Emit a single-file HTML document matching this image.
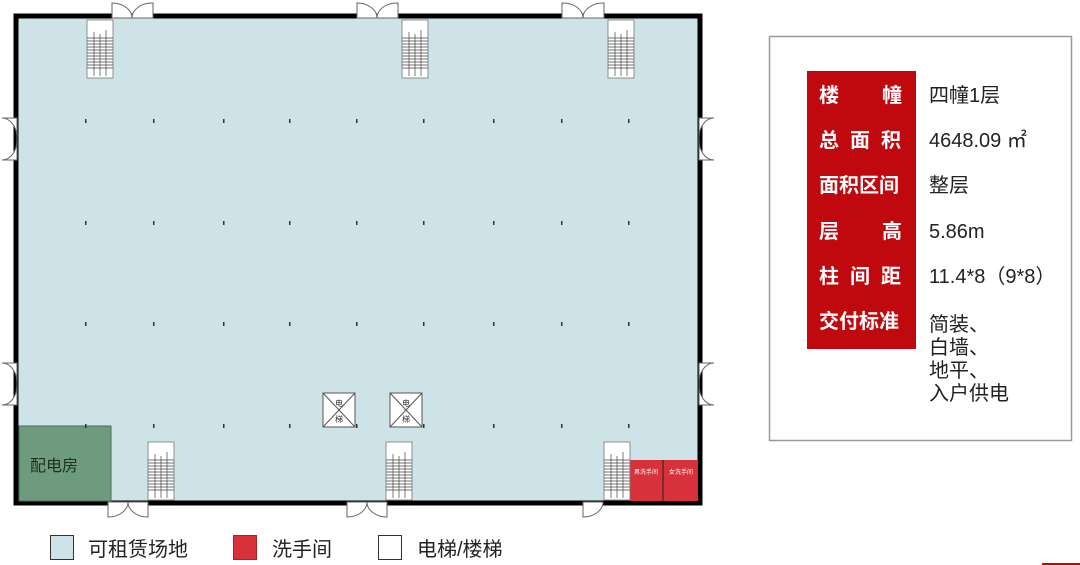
<!DOCTYPE html>
<html><head><meta charset="utf-8"><style>
body{margin:0;background:#fff;width:1080px;height:565px;overflow:hidden}
svg{display:block}
text{font-family:"Liberation Sans","Noto Sans CJK SC",sans-serif}
</style></head><body>
<svg width="1080" height="565" viewBox="0 0 1080 565" xmlns="http://www.w3.org/2000/svg">
<rect x="16" y="16" width="684" height="487" fill="#cde3e8"/>
<rect x="16" y="16" width="684" height="487" fill="none" stroke="#000" stroke-width="5"/>
<rect x="19" y="426" width="92" height="75" fill="#6e9b7e" stroke="#4a6e57" stroke-width="1"/>
<text x="30" y="471" font-size="16" fill="#1f2f25">配电房</text>
<rect x="630" y="460" width="68" height="41" fill="#d8313b"/>
<line x1="663" y1="460" x2="663" y2="501" stroke="#222" stroke-width="1"/>
<text x="646" y="474" font-size="6" fill="#fff" text-anchor="middle">男洗手间</text>
<text x="681" y="474" font-size="6" fill="#fff" text-anchor="middle">女洗手间</text>
<defs>
<g id="row"><rect x="85" y="-2" width="1.5" height="4"/><rect x="153" y="-2" width="1.5" height="4"/><rect x="223" y="-2" width="1.5" height="4"/><rect x="289" y="-2" width="1.5" height="4"/><rect x="356" y="-2" width="1.5" height="4"/><rect x="423" y="-2" width="1.5" height="4"/><rect x="493" y="-2" width="1.5" height="4"/><rect x="561" y="-2" width="1.5" height="4"/><rect x="628" y="-2" width="1.5" height="4"/></g>
<g id="st"><rect x="0" y="0" width="26" height="58" fill="#fff" stroke="#777" stroke-width="0.8"/>
<g stroke="#444" stroke-width="0.7"><line x1="0" y1="18" x2="26" y2="18"/><line x1="0" y1="21" x2="26" y2="21"/><line x1="0" y1="24" x2="26" y2="24"/><line x1="0" y1="27" x2="26" y2="27"/><line x1="0" y1="30" x2="26" y2="30"/><line x1="0" y1="33" x2="26" y2="33"/><line x1="0" y1="36" x2="26" y2="36"/><line x1="0" y1="39" x2="26" y2="39"/><line x1="0" y1="42" x2="26" y2="42"/><line x1="0" y1="45" x2="26" y2="45"/><line x1="0" y1="48" x2="26" y2="48"/><line x1="7" y1="12" x2="7" y2="56"/><line x1="13" y1="14" x2="13" y2="56"/><line x1="19" y1="10" x2="19" y2="56"/></g></g>
<g id="el"><rect x="0" y="0" width="32" height="34" fill="#fff" stroke="#555" stroke-width="1"/><line x1="0" y1="0" x2="32" y2="34" stroke="#555"/><line x1="32" y1="0" x2="0" y2="34" stroke="#555"/><text x="16" y="13" font-size="8" text-anchor="middle" fill="#333">电</text><text x="16" y="29" font-size="8" text-anchor="middle" fill="#333">梯</text></g>
</defs>
<g fill="#333">
<use href="#row" y="121"/><use href="#row" y="223"/><use href="#row" y="324"/><use href="#row" y="426"/>
</g>
<g fill="#fff" stroke="#666" stroke-width="1">
<path d="M112 18 V3 A20 15 0 0 1 132 18 A20 15 0 0 1 153 3 V18 Z"/>
<path d="M357 18 V3 A20 15 0 0 1 377 18 A20 15 0 0 1 398 3 V18 Z"/>
<path d="M562 18 V3 A20 15 0 0 1 583 18 A20 15 0 0 1 604 3 V18 Z"/>
<path d="M108 502 V517 A20 15 0 0 0 128 502 A20 15 0 0 0 148 517 V502 Z"/>
<path d="M347 502 V517 A20 15 0 0 0 367 502 A20 15 0 0 0 387 517 V502 Z"/>
<path d="M583 502 V517 A20 15 0 0 0 603 502 Z"/>
<path d="M17 118 H2 A15 20 0 0 1 17 139 A15 20 0 0 1 2 160 H17 Z"/>
<path d="M17 363 H2 A15 20 0 0 1 17 384 A15 20 0 0 1 2 405 H17 Z"/>
<path d="M699 118 H714 A15 20 0 0 0 699 139 A15 20 0 0 0 714 160 H699 Z"/>
<path d="M699 363 H714 A15 20 0 0 0 699 384 A15 20 0 0 0 714 405 H699 Z"/>
</g>
<use href="#st" x="87" y="20"/><use href="#st" x="402" y="20"/><use href="#st" x="608" y="20"/>
<use href="#st" x="148" y="442"/><use href="#st" x="386" y="442"/><use href="#st" x="604" y="442"/>
<use href="#el" x="323" y="393"/><use href="#el" x="390" y="393"/>
<rect x="769.5" y="36.5" width="302" height="404" fill="#fff" stroke="#999" stroke-width="1.5"/>
<rect x="807" y="71" width="109" height="278" fill="#c0080f"/>
<g font-size="20" font-weight="bold" fill="#fff">
<text x="819" y="102">楼</text><text x="882" y="102">幢</text>
<text x="819" y="147" letter-spacing="11">总面积</text>
<text x="819" y="192">面积区间</text>
<text x="819" y="238">层</text><text x="882" y="238">高</text>
<text x="819" y="283" letter-spacing="11">柱间距</text>
<text x="819" y="328">交付标准</text>
</g>
<g font-size="20" fill="#222">
<text x="929" y="102">四幢1层</text>
<text x="929" y="147">4648.09 ㎡</text>
<text x="929" y="192">整层</text>
<text x="929" y="238">5.86m</text>
<text x="929" y="283">11.4*8（9*8）</text>
<text x="929" y="331">简装、</text>
<text x="929" y="354">白墙、</text>
<text x="929" y="377">地平、</text>
<text x="929" y="400">入户供电</text>
</g>
<rect x="50.5" y="535.5" width="23" height="24" fill="#cde3e8" stroke="#333"/>
<text x="88" y="556" font-size="20" fill="#222">可租赁场地</text>
<rect x="233.5" y="535.5" width="23" height="24" fill="#d8313b" stroke="#a22"/>
<text x="272" y="556" font-size="20" fill="#222">洗手间</text>
<rect x="378.5" y="535.5" width="23" height="24" fill="#fff" stroke="#333"/>
<text x="417" y="556" font-size="20" fill="#222">电梯/楼梯</text>
<rect x="1042" y="563" width="38" height="2" fill="#c0080f"/>
</svg>
</body></html>
